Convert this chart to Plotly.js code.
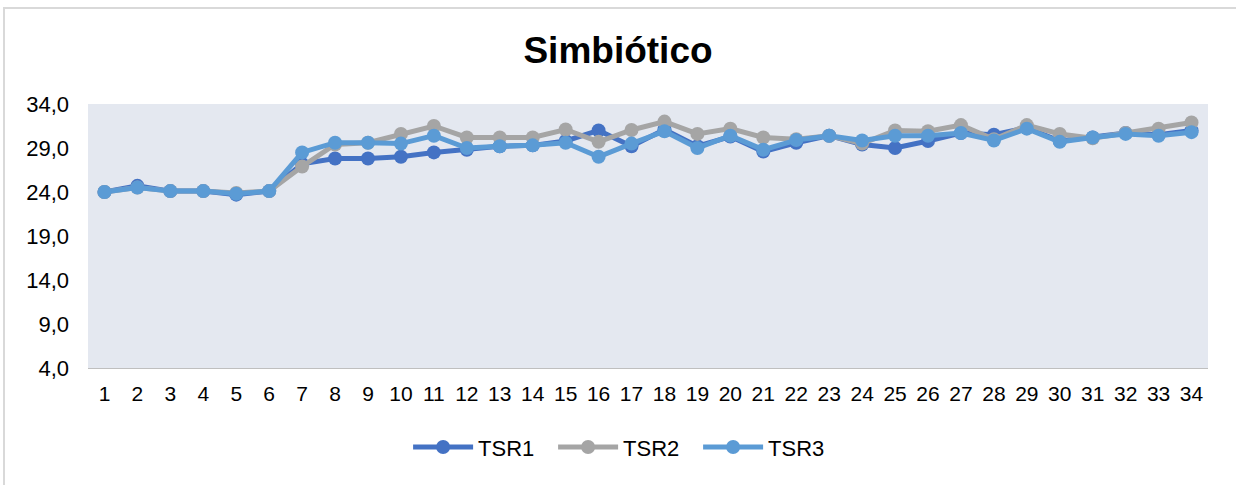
<!DOCTYPE html>
<html>
<head>
<meta charset="utf-8">
<script src="https://cdn.plot.ly/plotly-3.0.1.min.js"></script>
<style>
html,body{margin:0;padding:0;background:#fff;overflow:hidden;}
#frame{position:absolute;left:3px;top:7px;width:1400px;height:600px;border-top:2px solid #d9d9d9;border-left:2px solid #d9d9d9;box-sizing:border-box;pointer-events:none;z-index:5;}
#chart{width:1236px;height:485px;}
</style>
</head>
<body>
<div id="frame"></div>
<div id="chart"></div>
<script>
const categories = ["1","2","3","4","5","6","7","8","9","10","11","12","13","14","15","16","17","18","19","20","21","22","23","24","25","26","27","28","29","30","31","32","33","34"];
const tsr1 = [24.0,24.7,24.1,24.1,23.7,24.1,27.2,27.8,27.8,28.0,28.5,28.8,29.2,29.3,29.8,31.0,29.2,31.1,29.2,30.3,28.6,29.6,30.4,29.4,29.0,29.8,30.7,30.5,31.3,29.8,30.2,30.7,30.5,31.0];
const tsr2 = [24.0,24.5,24.1,24.1,23.9,24.1,26.9,29.4,29.6,30.6,31.5,30.2,30.2,30.2,31.1,29.7,31.05,32.0,30.6,31.2,30.2,30.0,30.4,29.5,31.0,30.9,31.6,30.0,31.6,30.6,30.1,30.7,31.2,31.9];
const tsr3 = [24.0,24.5,24.1,24.1,23.8,24.1,28.5,29.6,29.6,29.5,30.4,29.0,29.2,29.3,29.6,28.0,29.5,30.9,29.0,30.4,28.8,29.9,30.4,29.85,30.4,30.4,30.7,29.85,31.2,29.7,30.2,30.6,30.4,30.8];
const seriesNames = ["TSR1","TSR2","TSR3"];
const seriesColors = ["#4472C4","#A5A5A5","#5B9BD5"];

const values = [tsr1, tsr2, tsr3];
const traces = values.map((v, i) => ({
  type: 'scatter',
  mode: 'lines+markers',
  x: categories,
  y: v,
  name: seriesNames[i],
  line: {color: seriesColors[i], width: 5},
  marker: {color: seriesColors[i], size: 14, symbol: 'circle'}
}));

const font = {family: '"Liberation Sans", Arial, sans-serif', color: '#000'};
const layout = {
  width: 1236, height: 485,
  paper_bgcolor: '#ffffff',
  plot_bgcolor: '#e4e8f0',
  separators: ', ',
  margin: {l: 88, r: 28, t: 104, b: 117},
  title: {text: '<b>Simbiótico</b>', font: Object.assign({}, font, {size: 37}), x: 0.5, xanchor: 'center', y: 0.897, yanchor: 'middle'},
  xaxis: {
    type: 'category',
    range: [-0.5, categories.length - 0.5],
    autorange: false,
    showgrid: false,
    zeroline: false,
    showline: true,
    linecolor: '#bfbfbf',
    linewidth: 1,
    ticks: '',
    tickfont: Object.assign({}, font, {size: 21}),
    ticklabelstandoff: 7,
    fixedrange: true
  },
  yaxis: {
    range: [4, 34],
    tickmode: 'linear',
    tick0: 4,
    dtick: 5,
    tickformat: '.1f',
    showgrid: false,
    zeroline: false,
    showline: false,
    ticks: '',
    tickfont: Object.assign({}, font, {size: 22}),
    ticklabelstandoff: 18,
    fixedrange: true
  },
  showlegend: true,
  legend: {
    orientation: 'h',
    x: 0.48, xanchor: 'center',
    y: -0.30, yanchor: 'middle',
    font: Object.assign({}, font, {size: 22}),
    itemwidth: 60,
    entrywidth: 70,
    entrywidthmode: 'pixels',
    bgcolor: 'rgba(0,0,0,0)'
  }
};

Plotly.newPlot('chart', traces, layout, {displayModeBar: false, staticPlot: true});
</script>
</body>
</html>
